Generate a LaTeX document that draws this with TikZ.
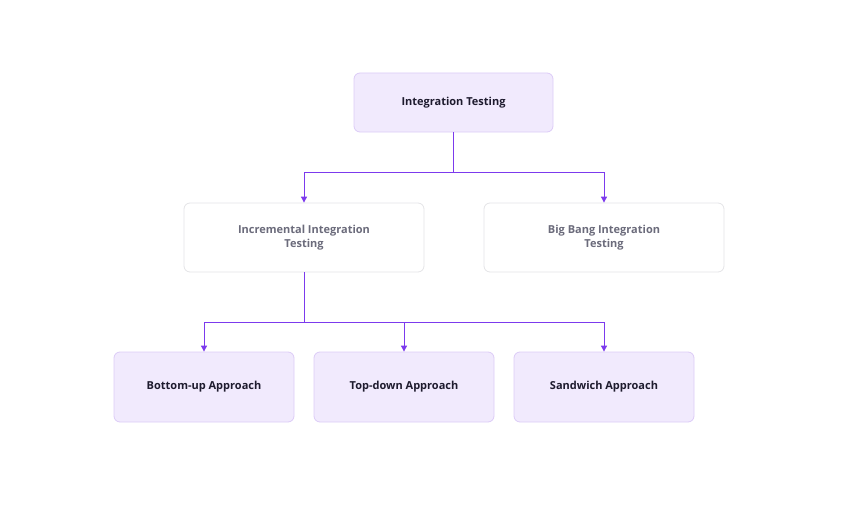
\documentclass[tikz,border=0pt]{standalone}
\usepackage{fontspec}
\setmainfont{Open Sans}
\usetikzlibrary{positioning,arrows.meta}
\definecolor{boxfill}{HTML}{F1EAFD}
\definecolor{boxline}{HTML}{DCCBF7}
\definecolor{greyline}{HTML}{E4E4E7}
\definecolor{greytext}{HTML}{6B6B7B}
\definecolor{darktext}{HTML}{1E1B2E}
\definecolor{linkcol}{HTML}{7C3AED}
\tikzset{
	treepicture/.style = {
		x = 1pt,
		y = -1pt,
		font = \fontsize{11}{14}\selectfont\bfseries,
		link/.style = {
			draw = linkcol,
			line width = 0.9pt,
			-{Triangle[length=6pt,width=6pt]},
		}
	},
	mainnode/.style = {
		draw = boxline,
		fill = boxfill,
		rounded corners = 6pt,
		line width = 0.8pt,
		text = darktext,
		align = center
	},
	subnode/.style = {
		draw = greyline,
		fill = white,
		rounded corners = 6pt,
		line width = 0.8pt,
		text = greytext,
		align = center,
		minimum width = 240pt,
		minimum height = 69pt
	},
	leafnode/.style = {
		mainnode,
		minimum width = 180pt,
		minimum height = 70pt
	}
}
\begin{document}
\begin{tikzpicture}[treepicture]
	\useasboundingbox (0,0) rectangle (860,511);

	\node[mainnode, minimum width = 199pt, minimum height = 59pt] (IT) at (453.5,102.5) {Integration Testing};

	\node[subnode] (INC) at (304,237.5) {Incremental Integration\\Testing};
	\node[subnode] (BB) at (604,237.5) {Big Bang Integration\\Testing};

	\node[leafnode] (BU) at (204,387) {Bottom-up Approach};
	\node[leafnode] (TD) at (404,387) {Top-down Approach};
	\node[leafnode] (SW) at (604,387) {Sandwich Approach};

	\coordinate (J1) at (453.5,172);
	\coordinate (J2) at (304,322);

	\draw[linkcol, line width = 0.9pt] (IT.south) -- (J1);
	\path[link] (J1) -| (INC.north);
	\path[link] (J1) -| (BB.north);

	\draw[linkcol, line width = 0.9pt] (INC.south) -- (J2);
	\path[link] (J2) -| (BU.north);
	\path[link] (J2) -| (TD.north);
	\path[link] (J2) -| (SW.north);
\end{tikzpicture}
\end{document}
